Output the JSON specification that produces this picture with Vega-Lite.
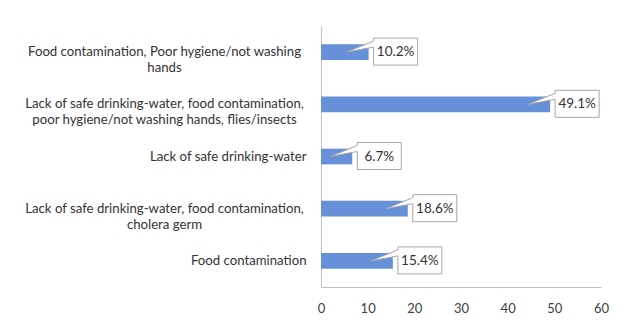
{
  "$schema": "https://vega.github.io/schema/vega-lite/v6.json",
  "width": 280,
  "height": 261,
  "autosize": "none",
  "padding": {"left": 321, "top": 26, "right": 26, "bottom": 38},
  "background": "white",
  "config": {"view": {"stroke": null}, "font": "Lato"},
  "data": {
    "values": [
      {"cause": "Food contamination, Poor hygiene/not washing hands", "pct": 10.2},
      {"cause": "Lack of safe drinking-water, food contamination, poor hygiene/not washing hands, flies/insects", "pct": 49.1},
      {"cause": "Lack of safe drinking-water", "pct": 6.7},
      {"cause": "Lack of safe drinking-water, food contamination, cholera germ", "pct": 18.6},
      {"cause": "Food contamination", "pct": 15.4}
    ]
  },
  "transform": [{"calculate": "format(datum.pct, '.1f') + '%'", "as": "label"}],
  "encoding": {
    "y": {
      "field": "cause", "type": "nominal", "sort": null, "title": null,
      "scale": {"paddingInner": 0.7, "paddingOuter": 0.35},
      "axis": {
        "domainColor": "#bfbfbf", "domainWidth": 1, "ticks": false,
        "labelColor": "#333333", "labelFontSize": 13.2,
        "labelAlign": {"condition": {"test": "indexof(datum.value, ',') >= 0", "value": "center"}, "value": "right"},
        "labelPadding": {"condition": {"test": "indexof(datum.value, ',') >= 0", "value": 157}, "value": 15},
        "labelLimit": 400, "labelLineHeight": 16,
        "labelExpr": "datum.label == 'Food contamination, Poor hygiene/not washing hands' ? ['Food contamination, Poor hygiene/not washing', 'hands'] : datum.label == 'Lack of safe drinking-water, food contamination, poor hygiene/not washing hands, flies/insects' ? ['Lack of safe drinking-water, food contamination,', 'poor hygiene/not washing hands, flies/insects'] : datum.label == 'Lack of safe drinking-water, food contamination, cholera germ' ? ['Lack of safe drinking-water, food contamination,', 'cholera germ'] : datum.label"
      }
    }
  },
  "layer": [
    {
      "mark": {"type": "bar", "color": "#6690d8"},
      "encoding": {
        "x": {
          "field": "pct", "type": "quantitative", "title": null,
          "scale": {"domain": [0, 60], "nice": false},
          "axis": {
            "values": [0, 10, 20, 30, 40, 50, 60], "grid": false, "ticks": false,
            "domainColor": "#bfbfbf", "labelColor": "#404040", "labelFontSize": 13,
            "labelPadding": 15, "labelFlush": false
          }
        }
      }
    },
    {
      "mark": {
        "type": "point", "filled": true, "fill": "white", "fillOpacity": 1,
        "stroke": "#a6a6a6", "strokeWidth": 1, "opacity": 1, "size": 4,
        "shape": "M5,-14 L49,-14 L49,13 L5,13 L5,-5 L-22,0 L5,-11 Z"
      },
      "encoding": {"x": {"field": "pct", "type": "quantitative"}}
    },
    {
      "mark": {"type": "text", "dx": 27, "fontSize": 13.5, "color": "#333333", "baseline": "middle", "align": "center"},
      "encoding": {
        "x": {"field": "pct", "type": "quantitative"},
        "text": {"field": "label", "type": "nominal"}
      }
    }
  ]
}
